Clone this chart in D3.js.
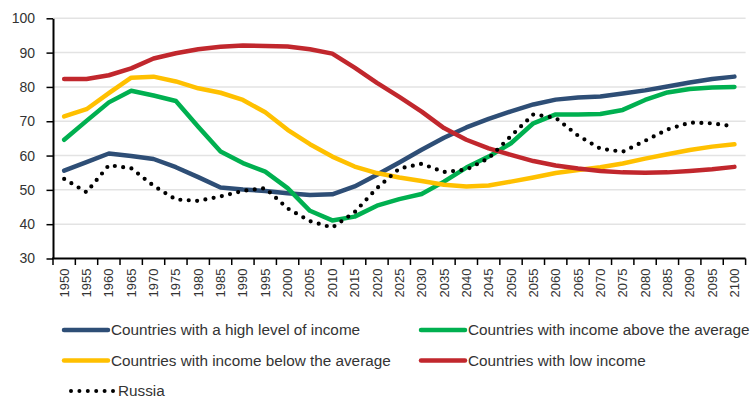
<!DOCTYPE html>
<html>
<head>
<meta charset="utf-8">
<script src="https://d3js.org/d3.v7.min.js"></script>
<style>
  body { margin: 0; background-color: #ffffff; font-family: "Liberation Sans", Arial, sans-serif; }
  .grid line { stroke: #e3e3e3; stroke-width: 1.5; }
  .axis text { fill: #333; }
</style>
</head>
<body>
<div class="chart"></div>
<script>
// data (share, %)
var years = [1950,1955,1960,1965,1970,1975,1980,1985,1990,1995,2000,2005,2010,2015,2020,2025,
             2030,2035,2040,2045,2050,2055,2060,2065,2070,2075,2080,2085,2090,2095,2100];
var highIncome = [55.6,58.1,60.6,59.9,59.0,56.6,53.7,50.7,50.1,49.7,49.0,48.5,48.7,51.0,54.4,58.0,
                  61.7,65.2,68.2,70.7,72.9,74.9,76.3,76.9,77.2,78.1,79.0,80.1,81.3,82.3,83.0];
var aboveAverage = [64.6,70.1,75.5,78.9,77.5,75.9,68.4,61.2,57.8,55.3,50.5,43.9,41.1,42.2,45.4,47.3,
                    48.8,52.4,56.5,59.7,63.6,69.4,72.0,72.0,72.1,73.3,76.2,78.4,79.4,79.8,80.0];
var belowAverage = [71.4,73.5,78.2,82.7,83.0,81.6,79.6,78.3,76.2,72.6,67.5,63.3,59.7,56.8,54.9,53.6,
                    52.6,51.5,51.0,51.3,52.4,53.6,54.9,55.8,56.6,57.7,59.1,60.4,61.6,62.6,63.3];
var lowIncome = [82.3,82.3,83.4,85.4,88.3,89.8,91.0,91.7,92.1,91.9,91.8,91.0,89.7,85.6,81.2,77.1,
                 72.8,68.0,64.6,62.1,60.2,58.4,57.1,56.2,55.5,55.1,55.0,55.1,55.5,56.0,56.7];
var russia = [53.2,49.3,57.2,56.3,51.2,47.2,46.8,48.1,49.7,50.5,44.6,40.9,39.0,43.5,50.5,56.2,
              57.6,55.2,55.9,59.2,65.7,72.0,71.0,65.8,62.0,61.1,64.3,67.6,69.6,69.4,68.5];
var yTicks = [30,40,50,60,70,80,90,100];

var series = [
  {name: "Countries with a high level of income", values: highIncome, color: "#2e4e76"},
  {name: "Countries with income above the average", values: aboveAverage, color: "#00b050"},
  {name: "Countries with income below the average", values: belowAverage, color: "#ffc000"},
  {name: "Countries with low income", values: lowIncome, color: "#c1272d"},
  {name: "Russia", values: russia, color: "#000", dotted: true}
];

var width = 754, height = 401;
var margin = {top: 18.3, right: 8.4, bottom: 142.5, left: 53};

var svg = d3.select(".chart").append("svg")
    .attr("width", width)
    .attr("height", height);

var x = d3.scaleBand()
    .domain(years)
    .range([margin.left, width - margin.right])
    .paddingInner(0).paddingOuter(0);

var y = d3.scaleLinear()
    .domain([30, 100])
    .range([height - margin.bottom, margin.top]);

// grid
svg.append("g").attr("class", "grid")
  .selectAll("line")
  .data(yTicks.slice(1))
  .enter().append("line")
    .attr("x1", margin.left)
    .attr("x2", width - margin.right)
    .attr("y1", function(d) { return y(d); })
    .attr("y2", function(d) { return y(d); });

// y axis
var yAxis = svg.append("g")
    .attr("class", "axis")
    .attr("transform", "translate(" + margin.left + ",0)")
    .call(d3.axisLeft(y).tickValues(yTicks).tickSize(6.5).tickPadding(11.5).tickSizeOuter(0));
yAxis.select(".domain").attr("stroke", "#000").attr("stroke-width", 2);
yAxis.selectAll(".tick line").attr("stroke", "#000").attr("stroke-width", 1.5);
yAxis.selectAll("text").style("font-size", "14px");

// x axis: ticks between categories, labels at centers
var xAxis = svg.append("g")
    .attr("class", "axis")
    .attr("transform", "translate(0," + y(30) + ")");

var edges = years.map(function(d) { return x(d); }).concat([x(years[years.length - 1]) + x.bandwidth()]);
xAxis.selectAll(".edge")
  .data(edges)
  .enter().append("line")
    .attr("x1", function(d) { return d; })
    .attr("x2", function(d) { return d; })
    .attr("y1", 0)
    .attr("y2", 6.5)
    .attr("stroke", "#000")
    .attr("stroke-width", 1.5);

xAxis.append("line")
    .attr("x1", margin.left - 1)
    .attr("x2", width - margin.right)
    .attr("stroke", "#000")
    .attr("stroke-width", 2);

xAxis.selectAll(".lbl")
  .data(years)
  .enter().append("text")
    .attr("transform", function(d) { return "translate(" + (x(d) + x.bandwidth() / 2) + ",10) rotate(-90)"; })
    .attr("dy", "0.35em")
    .style("text-anchor", "end")
    .style("font-size", "13px")
    .text(function(d) { return d; });

// lines
var line = d3.line()
    .x(function(d, i) { return x(years[i]) + x.bandwidth() / 2; })
    .y(function(d) { return y(d); });

svg.selectAll(".series")
  .data(series)
  .enter().append("path")
    .attr("class", "series")
    .attr("fill", "none")
    .attr("stroke", function(d) { return d.color; })
    .attr("stroke-width", function(d) { return d.dotted ? 4.2 : 4.5; })
    .attr("stroke-linecap", "round")
    .attr("stroke-linejoin", "round")
    .attr("stroke-dasharray", function(d) { return d.dotted ? "0,8.4" : null; })
    .attr("d", function(d) { return line(d.values); });

// legend
var legendPos = [
  {x: 64, y: 330}, {x: 421, y: 330},
  {x: 64, y: 360.5}, {x: 421, y: 360.5},
  {x: 71, y: 391}
];

var legend = svg.selectAll(".legend")
  .data(series)
  .enter().append("g")
    .attr("class", "legend")
    .attr("transform", function(d, i) { return "translate(" + legendPos[i].x + "," + legendPos[i].y + ")"; });

legend.append("line")
    .attr("x1", 0)
    .attr("x2", function(d) { return d.dotted ? 42 : 44; })
    .attr("stroke", function(d) { return d.color; })
    .attr("stroke-width", function(d) { return d.dotted ? 4 : 4.5; })
    .attr("stroke-linecap", "round")
    .attr("stroke-dasharray", function(d) { return d.dotted ? "0,8.4" : null; });

legend.append("text")
    .attr("x", 47)
    .attr("dy", "0.35em")
    .style("font-size", "15.3px")
    .style("fill", "#333")
    .text(function(d) { return d.name; });
</script>
</body>
</html>
